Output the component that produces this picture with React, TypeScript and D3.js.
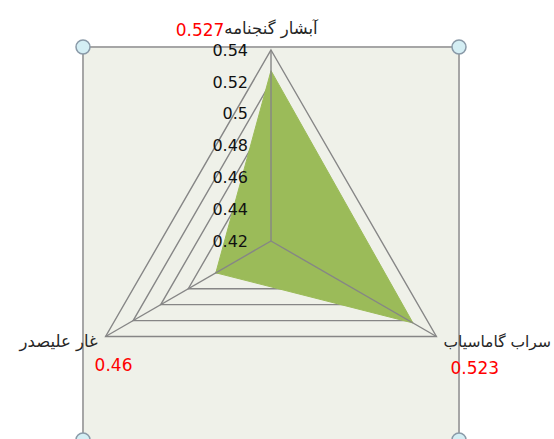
import React, { useRef, useEffect } from 'react'
import * as d3 from 'd3'

const categories = ['آبشار گنجنامه', 'سراب گاماسیاب', 'غار علیصدر']
const values = [0.527, 0.523, 0.46]
const ticks = [0.42, 0.44, 0.46, 0.48, 0.5, 0.52, 0.54]

export default function App() {
  const ref = useRef<SVGSVGElement>(null)

  useEffect(() => {
    const width = 554
    const height = 439
    const cx = 271
    const cy = 241
    const radius = 191

    const svg = d3.select(ref.current)
    svg.selectAll('*').remove()
    svg.attr('width', width).attr('height', height)

    const r = d3.scaleLinear().domain([0.42, 0.54]).range([0, radius])
    const angle = d3.scalePoint<number>().domain(d3.range(categories.length + 1)).range([0, 2 * Math.PI])

    // plot area
    const plot = { x0: 83, y0: 47, x1: 459, y1: 440 }
    svg.append('rect')
      .attr('x', plot.x0).attr('y', plot.y0)
      .attr('width', plot.x1 - plot.x0).attr('height', plot.y1 - plot.y0)
      .attr('fill', '#eff1e9')
      .attr('stroke', '#a6a6a6')
      .attr('stroke-width', 2)

    const g = svg.append('g').attr('transform', `translate(${cx},${cy})`)

    const ring = d3.lineRadial<number>()
      .angle((d, i) => angle(i)!)
      .radius(d => r(d))
      .curve(d3.curveLinearClosed)

    // rings
    g.append('g').selectAll('path')
      .data(ticks.slice(1))
      .join('path')
      .attr('d', t => ring(categories.map(() => t)))
      .attr('fill', 'none')
      .attr('stroke', '#868686')
      .attr('stroke-width', 1.4)

    // series
    g.append('path')
      .attr('d', ring(values))
      .attr('fill', '#9bbb59')
      .attr('stroke', '#9bbb59')
      .attr('stroke-width', 1)

    // spokes
    g.append('g').selectAll('line')
      .data(categories)
      .join('line')
      .attr('x1', 0).attr('y1', 0)
      .attr('x2', (d, i) => d3.pointRadial(angle(i)!, radius)[0])
      .attr('y2', (d, i) => d3.pointRadial(angle(i)!, radius)[1])
      .attr('stroke', '#868686')
      .attr('stroke-width', 1.4)

    // tick labels
    g.append('g').selectAll('text')
      .data(ticks)
      .join('text')
      .attr('x', -23)
      .attr('y', d => -r(d))
      .attr('dy', '0.36em')
      .attr('text-anchor', 'end')
      .style('font-family', '"DejaVu Sans", sans-serif')
      .style('font-size', '16px')
      .attr('fill', '#111')
      .text(d => d3.format('')(d))

    const font = '"DejaVu Sans", sans-serif'
    const tips = categories.map((c, i) => d3.pointRadial(angle(i)!, radius))

    // top label
    const top = g.append('text')
      .attr('x', tips[0][0]).attr('y', tips[0][1] - 16)
      .attr('text-anchor', 'middle')
      .style('font-family', font).style('font-size', '16.5px')
      .attr('fill', '#262626')
      .text(categories[0])
    const tw = (top.node() as SVGTextElement).getComputedTextLength()
    g.append('text')
      .attr('x', tips[0][0] - tw / 2).attr('y', tips[0][1] - 14)
      .attr('text-anchor', 'end')
      .style('font-family', font).style('font-size', '17px')
      .attr('fill', '#ff0000')
      .text(values[0])

    // right label
    g.append('text')
      .attr('x', tips[1][0] + 7).attr('y', tips[1][1] + 10)
      .attr('text-anchor', 'start')
      .style('font-family', font).style('font-size', '15.5px')
      .attr('fill', '#262626')
      .text(categories[1])
    g.append('text')
      .attr('x', tips[1][0] + 14).attr('y', tips[1][1] + 37)
      .attr('text-anchor', 'start')
      .style('font-family', font).style('font-size', '17px')
      .attr('fill', '#ff0000')
      .text(values[1])

    // left label
    g.append('text')
      .attr('x', tips[2][0] - 8).attr('y', tips[2][1] + 10)
      .attr('text-anchor', 'end')
      .style('font-family', font).style('font-size', '16.5px')
      .attr('fill', '#262626')
      .text(categories[2])
    g.append('text')
      .attr('x', tips[2][0] - 11).attr('y', tips[2][1] + 34)
      .attr('text-anchor', 'start')
      .style('font-family', font).style('font-size', '17px')
      .attr('fill', '#ff0000')
      .text(values[2])

    // selection handles
    svg.append('g').selectAll('circle')
      .data([[plot.x0, plot.y0], [plot.x1, plot.y0], [plot.x0, plot.y1], [plot.x1, plot.y1]])
      .join('circle')
      .attr('cx', d => d[0]).attr('cy', d => d[1])
      .attr('r', 7)
      .attr('fill', '#d4eef4')
      .attr('stroke', '#8a9aa8')
      .attr('stroke-width', 1.5)
  })

  return (
    <svg ref={ref} style={{ position: 'absolute', left: 0, top: 0, background: '#fff' }} />
  )
}
